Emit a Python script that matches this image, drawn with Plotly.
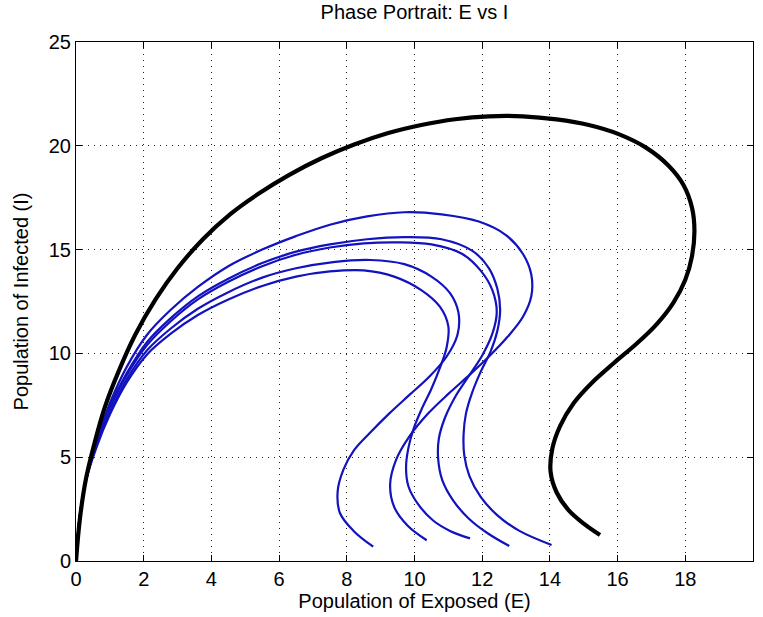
import plotly.graph_objects as go

# ---- data ----
x_ticks = [0, 2, 4, 6, 8, 10, 12, 14, 16, 18, 20]
y_ticks = [0, 5, 10, 15, 20, 25]

black_E = [0, 0.12, 0.3, 0.55, 0.85, 1.25, 1.75, 2.35, 3.0, 3.75, 4.55, 5.4, 6.3, 7.25, 8.2, 9.2, 10.2, 11.2, 12.2,
           13.2, 14.2, 15.15, 16.05, 16.85, 17.5, 17.95, 18.2, 18.27, 18.2, 18.0, 17.65, 17.15, 16.55, 15.9, 15.25,
           14.7, 14.3, 14.07, 14.02, 14.2, 14.55, 15.0, 15.48]
black_I = [0, 2.1, 4.0, 5.7, 7.4, 9.1, 10.9, 12.6, 14.1, 15.5, 16.7, 17.7, 18.6, 19.4, 20.05, 20.6, 21.0, 21.28, 21.42,
           21.42, 21.27, 21.0, 20.55, 19.9, 19.05, 18.1, 17.0, 15.9, 14.7, 13.55, 12.45, 11.4, 10.45, 9.55, 8.6,
           7.6, 6.5, 5.4, 4.3, 3.3, 2.45, 1.8, 1.25]

blue1_E = [0, 0.1, 0.3, 0.6, 1.0, 1.5, 2.1, 2.8, 3.6, 4.5, 5.5, 6.5, 7.5, 8.6, 9.7, 10.8, 11.9, 12.7, 13.2, 13.45,
           13.45, 13.2, 12.75, 12.2, 11.65, 11.0, 10.4, 9.85, 9.45, 9.28, 9.4, 9.8, 10.36]
blue1_I = [0, 2.0, 4.0, 5.8, 7.6, 9.35, 10.9, 12.1, 13.2, 14.2, 15.0, 15.65, 16.2, 16.6, 16.8, 16.7, 16.35, 15.7, 14.8,
           13.8, 12.75, 11.75, 10.8, 9.85, 9.0, 8.05, 7.1, 6.0, 4.85, 3.7, 2.6, 1.7, 1.0]

blue2_E = [0, 0.1, 0.3, 0.6, 1.0, 1.5, 2.1, 2.8, 3.6, 4.5, 5.5, 6.5, 7.5, 8.6, 9.7, 10.8, 11.7, 12.2, 12.45, 12.53,
           12.45, 12.25, 11.95, 11.7, 11.52, 11.45, 11.47, 11.62, 11.95, 12.45, 13.1, 14.05]
blue2_I = [0, 2.0, 4.0, 5.7, 7.45, 9.05, 10.55, 11.7, 12.75, 13.6, 14.35, 14.9, 15.25, 15.5, 15.6, 15.5, 14.95, 14.1,
           13.1, 12.1, 11.1, 10.1, 9.1, 8.1, 7.1, 6.1, 5.1, 4.1, 3.1, 2.2, 1.45, 0.77]

blue3_E = [0, 0.1, 0.3, 0.6, 1.0, 1.5, 2.1, 2.8, 3.6, 4.5, 5.5, 6.5, 7.5, 8.5, 9.5, 10.5, 11.4, 11.95, 12.3, 12.43,
           12.3, 12.0, 11.6, 11.2, 10.9, 10.72, 10.7, 10.82, 11.15, 11.6, 12.15, 12.8]
blue3_I = [0, 2.0, 4.0, 5.65, 7.35, 8.95, 10.4, 11.55, 12.6, 13.45, 14.2, 14.75, 15.1, 15.3, 15.35, 15.25, 14.8, 14.0,
           13.05, 12.0, 10.95, 9.9, 8.9, 7.9, 6.9, 5.9, 4.9, 3.9, 2.9, 2.05, 1.35, 0.72]

blue4_E = [0, 0.1, 0.3, 0.6, 1.0, 1.5, 2.1, 2.8, 3.6, 4.5, 5.5, 6.5, 7.6, 8.7, 9.7, 10.5, 11.05, 11.3, 11.27, 10.95,
           10.45, 9.85, 9.25, 8.7, 8.22, 7.9, 7.73, 7.8, 8.2, 8.78]
blue4_I = [0, 2.0, 3.9, 5.55, 7.15, 8.75, 10.15, 11.2, 12.15, 12.95, 13.65, 14.1, 14.4, 14.5, 14.3, 13.7, 12.9, 11.95,
           10.9, 9.85, 8.9, 8.0, 7.1, 6.2, 5.35, 4.4, 3.35, 2.3, 1.45, 0.69]

blue5_E = [0, 0.1, 0.3, 0.6, 1.0, 1.5, 2.1, 2.8, 3.6, 4.5, 5.5, 6.5, 7.5, 8.5, 9.4, 10.2, 10.75, 11.0, 10.95, 10.75,
           10.5, 10.22, 9.98, 9.82, 9.75, 9.82, 10.1, 10.55, 11.05, 11.64]
blue5_I = [0, 2.0, 3.9, 5.45, 7.05, 8.6, 9.95, 10.95, 11.85, 12.6, 13.25, 13.7, 13.95, 14.0, 13.7, 13.05, 12.25, 11.3,
           10.3, 9.3, 8.3, 7.35, 6.4, 5.45, 4.5, 3.6, 2.75, 1.95, 1.45, 1.09]

blue_series = [(blue1_E, blue1_I), (blue2_E, blue2_I), (blue3_E, blue3_I), (blue4_E, blue4_I), (blue5_E, blue5_I)]

FONT = "Liberation Sans, Arial, sans-serif"
BLUE = "rgb(18,18,190)"

fig = go.Figure()
for e, i in blue_series:
    fig.add_trace(go.Scatter(x=e, y=i, mode="lines",
                             line=dict(color=BLUE, width=2.2, shape="spline", smoothing=1.0),
                             showlegend=False, hoverinfo="skip"))
fig.add_trace(go.Scatter(x=black_E, y=black_I, mode="lines",
                         line=dict(color="black", width=4.2, shape="spline", smoothing=1.0),
                         showlegend=False, hoverinfo="skip"))

axis_common = dict(showline=True, linecolor="black", linewidth=1, mirror="ticks",
                   ticks="inside", ticklen=6, tickcolor="black", tickwidth=1,
                   showgrid=True, gridcolor="#222222", griddash="1px,5px", gridwidth=1.2,
                   zeroline=False, tickfont=dict(family=FONT, size=20, color="black"))

fig.update_xaxes(range=[0, 20], tickvals=x_ticks, ticktext=[str(v) for v in x_ticks],
                 title=dict(text="Population of Exposed (E)", font=dict(family=FONT, size=20, color="black"),
                            standoff=4),
                 **axis_common)
fig.update_yaxes(range=[0, 25], tickvals=y_ticks, ticktext=[str(v) for v in y_ticks],
                 title=dict(text="Population of Infected (I)", font=dict(family=FONT, size=20, color="black"),
                            standoff=14),
                 **axis_common)

fig.update_layout(
    width=763, height=617,
    margin=dict(l=76, r=10, t=42, b=56),
    paper_bgcolor="white", plot_bgcolor="white",
    title=dict(text="Phase Portrait: E vs I", font=dict(family=FONT, size=20, color="black"),
               x=414.5 / 763, xanchor="center", y=1 - 12 / 617, yanchor="middle"),
)

fig.write_html("out.html")
